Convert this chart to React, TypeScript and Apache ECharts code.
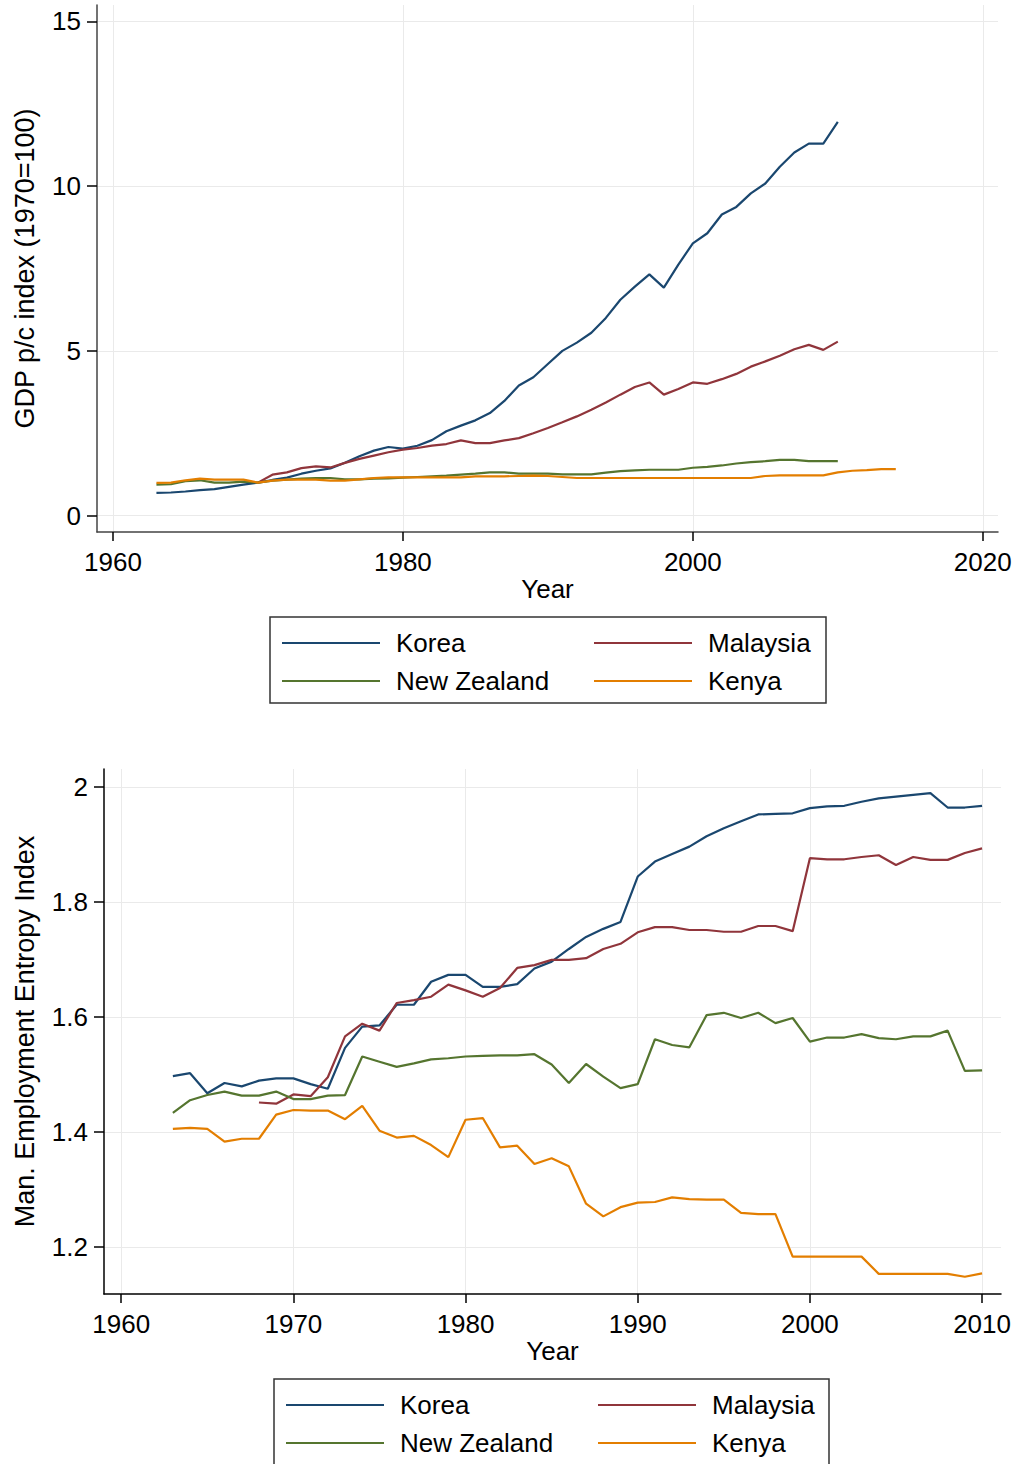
import React, { useEffect, useRef } from "react";
import * as echarts from "echarts";

// ---------- DATA ----------
const countries = ["Korea", "Malaysia", "New Zealand", "Kenya"];
const colors = ["#1a476f", "#90353b", "#55752f", "#e37e00"];

const years = [
  1963, 1964, 1965, 1966, 1967, 1968, 1969, 1970, 1971, 1972, 1973, 1974, 1975,
  1976, 1977, 1978, 1979, 1980, 1981, 1982, 1983, 1984, 1985, 1986, 1987, 1988,
  1989, 1990, 1991, 1992, 1993, 1994, 1995, 1996, 1997, 1998, 1999, 2000, 2001,
  2002, 2003, 2004, 2005, 2006, 2007, 2008, 2009, 2010, 2011, 2012, 2013, 2014,
];

// Top chart: GDP p/c index (1970=1)
const gdpKoreaStart = 1963;
const gdpKorea = [
  0.69, 0.7, 0.73, 0.77, 0.8, 0.87, 0.94, 1.0, 1.08, 1.15, 1.27, 1.36, 1.43,
  1.6, 1.8, 1.97, 2.08, 2.03, 2.12, 2.29, 2.56, 2.73, 2.89, 3.11, 3.48, 3.95,
  4.2, 4.6, 5.0, 5.25, 5.55, 6.0, 6.55, 6.95, 7.32, 6.92, 7.62, 8.26, 8.57,
  9.14, 9.37, 9.78, 10.08, 10.59, 11.02, 11.29, 11.29, 11.95,
];
const gdpMalaysiaStart = 1970;
const gdpMalaysia = [
  1.0, 1.24, 1.31, 1.44, 1.49, 1.46, 1.6, 1.72, 1.82, 1.92, 2.0, 2.05, 2.12,
  2.17, 2.28, 2.2, 2.2, 2.28, 2.35, 2.5, 2.66, 2.83, 3.01, 3.21, 3.43, 3.67,
  3.9, 4.04, 3.67, 3.84, 4.04, 4.0, 4.14, 4.3, 4.52, 4.68, 4.85, 5.05, 5.18,
  5.03, 5.28,
];
const gdpNZStart = 1963;
const gdpNZ = [
  0.94, 0.95, 1.04, 1.07, 1.0, 1.0, 1.03, 1.0, 1.06, 1.09, 1.12, 1.14, 1.14,
  1.1, 1.1, 1.12, 1.13, 1.15, 1.17, 1.19, 1.21, 1.24, 1.27, 1.31, 1.31, 1.27,
  1.27, 1.27, 1.25, 1.25, 1.25, 1.3, 1.35, 1.37, 1.39, 1.39, 1.39, 1.45, 1.48,
  1.52, 1.58, 1.62, 1.65, 1.69, 1.69, 1.65, 1.65, 1.65,
];
const gdpKenyaStart = 1963;
const gdpKenya = [
  0.99, 1.0, 1.07, 1.12, 1.09, 1.09, 1.09, 1.0, 1.06, 1.09, 1.09, 1.09, 1.06,
  1.06, 1.1, 1.14, 1.16, 1.16, 1.16, 1.16, 1.16, 1.16, 1.19, 1.19, 1.19, 1.2,
  1.21, 1.2, 1.17, 1.14, 1.14, 1.14, 1.14, 1.14, 1.14, 1.14, 1.14, 1.14, 1.14,
  1.14, 1.14, 1.14, 1.2, 1.22, 1.22, 1.22, 1.22, 1.31, 1.36, 1.38, 1.41, 1.41,
];

// Bottom chart: Manufacturing employment entropy index
const entKoreaStart = 1963;
const entKorea = [
  1.497, 1.502, 1.467, 1.485, 1.479, 1.489, 1.493, 1.493, 1.483, 1.475, 1.546,
  1.583, 1.585, 1.621, 1.621, 1.661, 1.673, 1.673, 1.652, 1.652, 1.657, 1.684,
  1.696, 1.718, 1.739, 1.753, 1.765, 1.844, 1.87, 1.883, 1.896, 1.914, 1.928,
  1.94, 1.952, 1.953, 1.954, 1.963, 1.966, 1.967, 1.974, 1.98, 1.983, 1.986,
  1.989, 1.964, 1.964, 1.967,
];
const entMalaysiaStart = 1968;
const entMalaysia = [
  1.451, 1.449, 1.465, 1.462, 1.495, 1.566, 1.588, 1.576, 1.624, 1.629, 1.635,
  1.656, 1.646, 1.635, 1.65, 1.685, 1.69, 1.699, 1.699, 1.702, 1.718, 1.727,
  1.747, 1.756, 1.756, 1.751, 1.751, 1.748, 1.748, 1.758, 1.758, 1.749, 1.876,
  1.874, 1.874, 1.878, 1.881, 1.864, 1.878, 1.873, 1.873, 1.885, 1.893,
];
const entNZStart = 1963;
const entNZ = [
  1.433, 1.455, 1.464, 1.47, 1.463, 1.463, 1.47, 1.457, 1.457, 1.463, 1.464,
  1.531, 1.522, 1.513, 1.519, 1.526, 1.528, 1.531, 1.532, 1.533, 1.533, 1.535,
  1.517, 1.485, 1.518, 1.496, 1.476, 1.483, 1.561, 1.551, 1.547, 1.603, 1.607,
  1.598, 1.607, 1.589, 1.598, 1.557, 1.564, 1.564, 1.57, 1.563, 1.561, 1.566,
  1.566, 1.576, 1.506, 1.507,
];
const entKenyaStart = 1963;
const entKenya = [
  1.405, 1.407, 1.405, 1.383, 1.388, 1.388, 1.43, 1.438, 1.437, 1.437, 1.422,
  1.445, 1.402, 1.39, 1.393, 1.377, 1.356, 1.421, 1.424, 1.373, 1.376, 1.344,
  1.354, 1.34, 1.275, 1.253, 1.269, 1.277, 1.278, 1.286, 1.283, 1.282, 1.282,
  1.259, 1.257, 1.257, 1.183, 1.183, 1.183, 1.183, 1.183, 1.153, 1.153, 1.153,
  1.153, 1.153, 1.148, 1.154,
];

const topXTicks = [1960, 1980, 2000, 2020];
const topYTicks = [0, 5, 10, 15];
const botXTicks = [1960, 1970, 1980, 1990, 2000, 2010];
const botYTicks = [1.2, 1.4, 1.6, 1.8, 2];

const topYName = "GDP p/c index (1970=100)";
const botYName = "Man. Employment Entropy Index";
const xName = "Year";

// ---------- HELPERS ----------
const FONT = "'Liberation Sans', Arial, Helvetica, sans-serif";

function pairs(start: number, vals: number[]) {
  const i0 = years.indexOf(start);
  return vals.map((v, i) => [years[i0 + i], v]);
}

function makeSeries(idx: number, data: number[][], name: string, color: string) {
  return {
    type: "line",
    name,
    xAxisIndex: idx,
    yAxisIndex: idx,
    data,
    showSymbol: false,
    symbol: "none",
    lineStyle: { color, width: 2.2 },
    itemStyle: { color },
    emphasis: { disabled: true },
    z: 3,
  };
}

const plain = (v: number) => String(v);

function xAxis(idx: number, min: number, max: number, ticks: number[], axisColor: string) {
  return {
    type: "value",
    gridIndex: idx,
    min,
    max,
    name: xName,
    nameLocation: "middle",
    nameGap: 44,
    nameTextStyle: { fontSize: 26, color: "#000", fontFamily: FONT },
    axisLine: { show: true, onZero: false, lineStyle: { color: axisColor, width: 1.5 } },
    axisTick: {
      show: true,
      length: 9,
      customValues: ticks,
      lineStyle: { color: "#000", width: 1.5 },
    },
    axisLabel: {
      customValues: ticks,
      formatter: plain,
      fontSize: 26,
      color: "#000",
      fontFamily: FONT,
      margin: 17,
    },
    splitLine: { show: true, lineStyle: { color: "#eaeaea", width: 1 } },
  };
}

function yAxis(idx: number, min: number, max: number, ticks: number[], name: string, gap: number, axisColor: string) {
  return {
    type: "value",
    gridIndex: idx,
    min,
    max,
    name,
    nameLocation: "middle",
    nameGap: gap,
    nameTextStyle: { fontSize: 27, color: "#000", fontFamily: FONT },
    axisLine: { show: true, onZero: false, lineStyle: { color: axisColor, width: 1.5 } },
    axisTick: {
      show: true,
      length: 10,
      customValues: ticks,
      lineStyle: { color: "#000", width: 1.5 },
    },
    axisLabel: {
      customValues: ticks,
      formatter: plain,
      fontSize: 26,
      color: "#000",
      fontFamily: FONT,
      margin: 16,
    },
    splitLine: { show: true, lineStyle: { color: "#eaeaea", width: 1 } },
  };
}

function legend(names: string[], left: number, top: number) {
  return {
    orient: "vertical",
    left,
    top,
    data: names,
    icon: "rect",
    itemWidth: 98,
    itemHeight: 2,
    itemGap: 12,
    padding: 0,
    selectedMode: false,
    textStyle: {
      fontSize: 26,
      lineHeight: 26,
      color: "#000",
      fontFamily: FONT,
      padding: [0, 0, 0, 11],
    },
  };
}

export default function App() {
  const ref = useRef<HTMLDivElement>(null);

  useEffect(() => {
    if (!ref.current) return;
    const chart = echarts.init(ref.current, null, { renderer: "svg" });

    const topData = [
      pairs(gdpKoreaStart, gdpKorea),
      pairs(gdpMalaysiaStart, gdpMalaysia),
      pairs(gdpNZStart, gdpNZ),
      pairs(gdpKenyaStart, gdpKenya),
    ];
    const botData = [
      pairs(entKoreaStart, entKorea),
      pairs(entMalaysiaStart, entMalaysia),
      pairs(entNZStart, entNZ),
      pairs(entKenyaStart, entKenya),
    ];

    const series: any[] = [];
    countries.forEach((c, i) => series.push(makeSeries(0, topData[i], c, colors[i])));
    countries.forEach((c, i) => series.push(makeSeries(1, botData[i], c, colors[i])));

    chart.setOption({
      animation: false,
      backgroundColor: "#fff",
      textStyle: { fontFamily: FONT },
      grid: [
        { left: 97, top: 5, width: 901, height: 527, containLabel: false },
        { left: 104, top: 769, width: 897, height: 525, containLabel: false },
      ],
      xAxis: [
        xAxis(0, 1958.9, 2021.05, topXTicks, "#444"),
        xAxis(1, 1959.0, 2011.1, botXTicks, "#000"),
      ],
      yAxis: [
        yAxis(0, -0.5, 15.5, topYTicks, topYName, 59, "#444"),
        yAxis(1, 1.118, 2.031, botYTicks, botYName, 66, "#000"),
      ],
      legend: [
        legend(["Korea", "New Zealand"], 282, 630),
        legend(["Malaysia", "Kenya"], 594, 630),
        legend(["Korea", "New Zealand"], 286, 1392),
        legend(["Malaysia", "Kenya"], 598, 1392),
      ],
      graphic: [
        {
          type: "rect",
          shape: { x: 270, y: 617, width: 556, height: 86 },
          style: { fill: "none", stroke: "#333", lineWidth: 1.5 },
          silent: true,
        },
        {
          type: "rect",
          shape: { x: 274, y: 1379, width: 555, height: 100 },
          style: { fill: "none", stroke: "#333", lineWidth: 1.5 },
          silent: true,
        },
      ],
      series,
    });

    return () => chart.dispose();
  }, []);

  return (
    <div
      ref={ref}
      style={{ position: "fixed", left: 0, top: 0, width: 1016, height: 1464, background: "#fff" }}
    />
  );
}
